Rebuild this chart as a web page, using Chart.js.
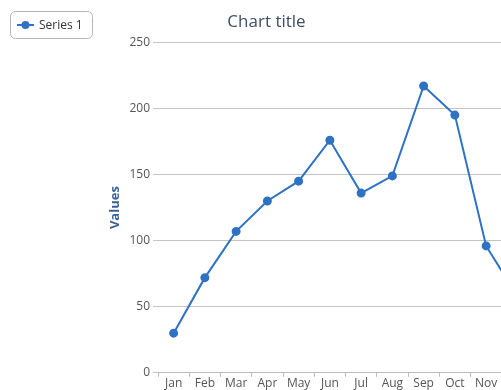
<!DOCTYPE html>
<html>
<head>
<meta charset="utf-8">
<script src="https://cdn.jsdelivr.net/npm/chart.js@4"></script>
<style>
  html, body { margin: 0; padding: 0; overflow: hidden; background: #fff; }
  #wrap { position: relative; width: 545px; height: 390px; }
</style>
</head>
<body>
<div id="wrap"><canvas id="myChart"></canvas></div>
<script>
// data
var months = ['Jan', 'Feb', 'Mar', 'Apr', 'May', 'Jun', 'Jul', 'Aug', 'Sep', 'Oct', 'Nov', 'Dec'];
var series1 = [30, 72, 107, 130, 145, 176, 136, 149, 217, 195, 96, 58];
var seriesName = 'Series 1';
var yTicks = [0, 50, 100, 150, 200, 250];

var lineColor = '#2f72c4';
var fontFamily = "'Open Sans', sans-serif";

// legend drawn as a rounded box in the top-left corner
var boxLegend = {
    id: 'boxLegend',
    afterDraw: function (chart) {
        var ctx = chart.ctx;
        var ds = chart.data.datasets[0];
        ctx.save();
        ctx.strokeStyle = '#b5b5b5';
        ctx.lineWidth = 1;
        ctx.beginPath();
        ctx.roundRect(10.5, 11.5, 82, 27, 5);
        ctx.stroke();
        // marker
        ctx.strokeStyle = ds.borderColor;
        ctx.lineWidth = 2;
        ctx.beginPath();
        ctx.moveTo(17, 25);
        ctx.lineTo(34, 25);
        ctx.stroke();
        ctx.fillStyle = ds.borderColor;
        ctx.beginPath();
        ctx.arc(25.5, 25, 4, 0, Math.PI * 2);
        ctx.fill();
        // text
        ctx.fillStyle = '#333';
        ctx.font = '12px ' + fontFamily;
        ctx.textBaseline = 'middle';
        ctx.fillText(ds.label, 39, 25.5);
        ctx.restore();
    }
};

var ctx = document.getElementById('myChart').getContext('2d');
var chart = new Chart(ctx, {
    type: 'line',
    data: {
        labels: months,
        datasets: [{
            label: seriesName,
            data: series1,
            borderColor: lineColor,
            backgroundColor: lineColor,
            borderWidth: 2,
            pointRadius: 3.5,
            pointHoverRadius: 5,
            tension: 0
        }]
    },
    options: {
        responsive: true,
        maintainAspectRatio: false,
        animation: false,
        layout: {
            padding: { left: 0, right: 12, top: 0, bottom: 0 }
        },
        plugins: {
            legend: { display: false },
            tooltip: { enabled: false },
            title: {
                display: true,
                text: 'Chart title',
                color: '#3d4e68',
                font: { family: fontFamily, size: 17, weight: 'normal' },
                padding: { top: 12, bottom: 10 }
            }
        },
        scales: {
            x: {
                offset: true,
                grid: {
                    offset: true,
                    drawOnChartArea: false,
                    drawTicks: true,
                    tickLength: 4,
                    color: '#bbbbbb'
                },
                border: { display: true, color: '#bbbbbb' },
                ticks: {
                    color: '#555',
                    font: { family: fontFamily, size: 12, lineHeight: 1.1 },
                    padding: 0,
                    maxRotation: 0,
                    autoSkip: false
                }
            },
            y: {
                min: 0,
                max: 250,
                afterBuildTicks: function (axis) {
                    axis.ticks = yTicks.map(function (v) { return { value: v }; });
                },
                afterFit: function (axis) {
                    axis.width = 158;
                },
                grid: {
                    color: '#c4c4c4',
                    drawTicks: true,
                    tickLength: 5
                },
                border: { display: false },
                ticks: {
                    color: '#555',
                    font: { family: fontFamily, size: 12 },
                    padding: 3
                },
                title: {
                    display: true,
                    text: 'Values',
                    color: '#3b6194',
                    font: { family: fontFamily, size: 13, weight: 'bold' },
                    padding: { top: 107, bottom: 0 }
                }
            }
        }
    },
    plugins: [boxLegend]
});
</script>
</body>
</html>
